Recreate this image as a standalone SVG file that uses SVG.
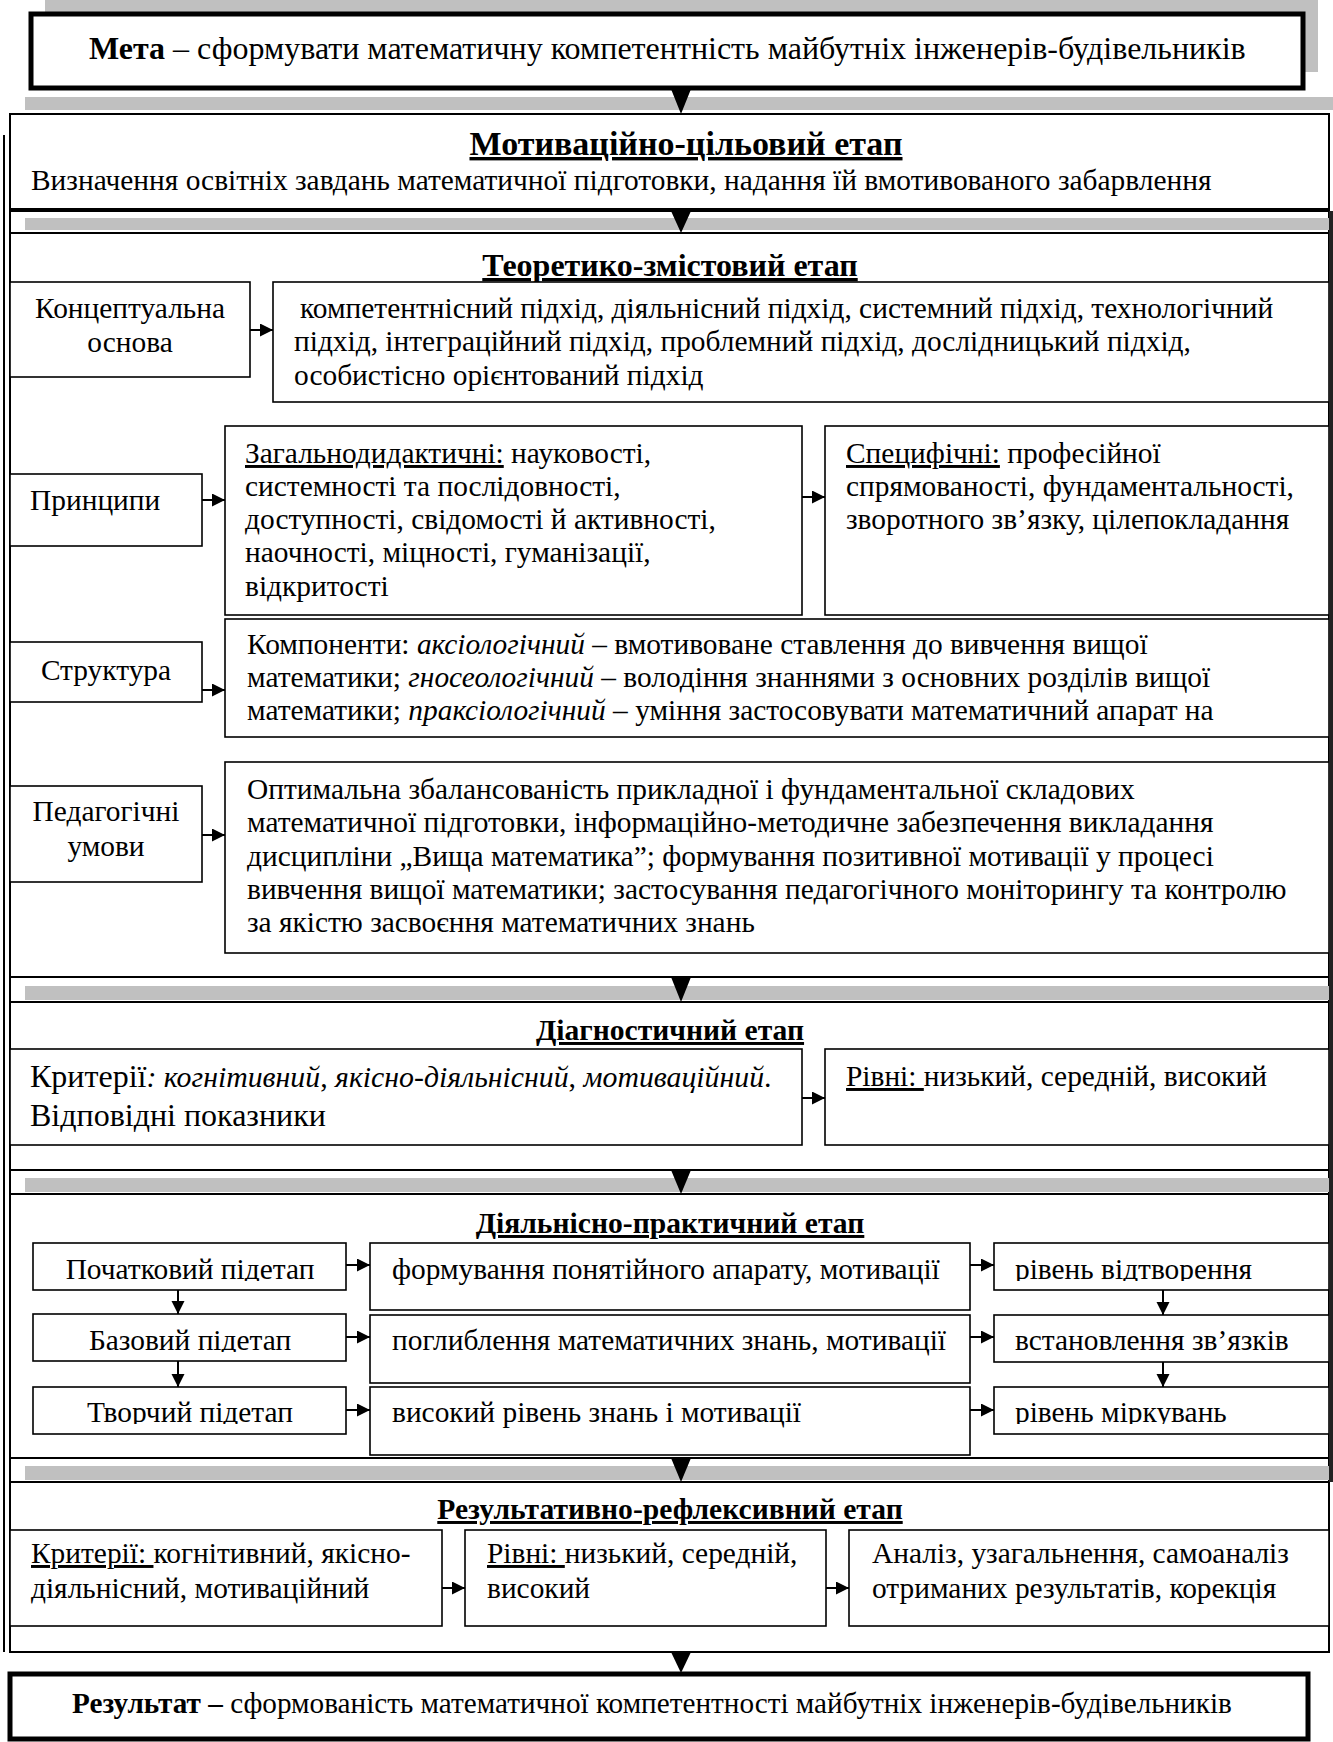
<svg xmlns="http://www.w3.org/2000/svg" width="1333" height="1742" viewBox="0 0 1333 1742">
<style>
text { font-family: "Liberation Serif", "Times New Roman", serif; font-size: 29.4px; fill: #000; }
.t { font-weight: bold; text-decoration: underline; text-anchor: middle; font-size: 29.6px; }
.c { text-anchor: middle; }
.u { text-decoration: underline; }
.i { font-style: italic; }
.b { font-weight: bold; }
.f32 { font-size: 32px; }
.f34 { font-size: 34px; }
.f298 { font-size: 29.8px; }
.f292 { font-size: 29.2px; }
.box { fill: #fff; stroke: #000; stroke-width: 1.6; }
.sec { fill: #fff; stroke: #000; stroke-width: 2; }
.thick { fill: #fff; stroke: #000; stroke-width: 5; }
.gray { fill: #c0c0c0; }
.ln { stroke: #000; stroke-width: 2; fill: none; }
.arr { stroke: #000; stroke-width: 2; fill: none; marker-end: url(#ah); }
.tri { fill: #000; }
</style>
<defs>
<marker id="ah" markerWidth="14" markerHeight="14" refX="13" refY="6.5" orient="auto" markerUnits="userSpaceOnUse">
<path d="M0,0 L13,6.5 L0,13 z" fill="#000"/>
</marker>
<clipPath id="cr1"><rect x="0" y="1243" width="1333" height="38"/></clipPath>
<clipPath id="cr2"><rect x="0" y="1314" width="1333" height="38"/></clipPath>
<clipPath id="cr3"><rect x="0" y="1387" width="1333" height="37"/></clipPath>
</defs>

<g id="background">
<rect class="gray" x="45" y="0" width="1273" height="72"/>
<line class="ln" x1="4" y1="135" x2="4" y2="1652"/>
</g>

<g id="meta">
<rect class="thick" x="31" y="14" width="1272" height="74"/>
<text class="f32" x="89" y="59"><tspan class="b">Мета</tspan> – сформувати математичну компетентність майбутніх інженерів-будівельників</text>
</g>

<g id="band1">
<rect class="gray" x="25" y="97" width="1308" height="13"/>
</g>

<g id="motivation">
<rect class="sec" x="10" y="114" width="1319" height="95"/>
<text class="t f34" x="686" y="155">Мотиваційно-цільовий етап</text>
<text x="31" y="190">Визначення освітніх завдань математичної підготовки, надання їй вмотивованого забарвлення</text>
</g>

<g id="band2">
<rect class="sec" x="10" y="211" width="1319" height="22"/>
<rect class="gray" x="25" y="218" width="1304" height="12"/>
</g>

<g id="theoretical">
<rect class="sec" x="10" y="233" width="1319" height="744"/>
<text class="t f32" x="670" y="276">Теоретико-змістовий етап</text>
</g>

<g id="concept">
<rect class="box" x="10" y="282" width="240" height="95"/>
<text class="c" x="130" y="318">Концептуальна</text>
<text class="c" x="130" y="352">основа</text>
</g>
<g id="approaches">
<rect class="box" x="273" y="282" width="1056" height="120"/>
<text x="300" y="318">компетентнісний підхід, діяльнісний підхід, системний підхід, технологічний</text>
<text x="294" y="351">підхід, інтеграційний підхід, проблемний підхід, дослідницький підхід,</text>
<text x="294" y="385">особистісно орієнтований підхід</text>
</g>

<g id="principles">
<rect class="box" x="10" y="474" width="192" height="72"/>
<text x="30" y="510">Принципи</text>
</g>
<g id="general">
<rect class="box" x="225" y="426" width="577" height="189"/>
<text x="245" y="463"><tspan class="u">Загальнодидактичні:</tspan> науковості,</text>
<text x="245" y="496">системності та послідовності,</text>
<text x="245" y="529">доступності, свідомості й активності,</text>
<text x="245" y="562">наочності, міцності, гуманізації,</text>
<text x="245" y="596">відкритості</text>
</g>
<g id="specific">
<rect class="box" x="825" y="426" width="504" height="189"/>
<text x="846" y="463"><tspan class="u">Специфічні:</tspan> професійної</text>
<text x="846" y="496">спрямованості, фундаментальності,</text>
<text x="846" y="529">зворотного зв’язку, цілепокладання</text>
</g>

<g id="structure">
<rect class="box" x="10" y="642" width="192" height="60"/>
<text class="c" x="106" y="680">Структура</text>
</g>
<g id="components">
<rect class="box" x="225" y="619" width="1104" height="118"/>
<text x="247" y="654">Компоненти: <tspan class="i">аксіологічний</tspan> – вмотивоване ставлення до вивчення вищої</text>
<text x="247" y="687">математики; <tspan class="i">гносеологічний</tspan> – володіння знаннями з основних розділів вищої</text>
<text x="247" y="720">математики; <tspan class="i">праксіологічний</tspan> – уміння застосовувати математичний апарат на</text>
</g>

<g id="ped">
<rect class="box" x="10" y="786" width="192" height="96"/>
<text class="c" x="106" y="821">Педагогічні</text>
<text class="c" x="106" y="856">умови</text>
</g>
<g id="conditions">
<rect class="box" x="225" y="762" width="1104" height="191"/>
<text x="247" y="799">Оптимальна збалансованість прикладної і фундаментальної складових</text>
<text x="247" y="832">математичної підготовки, інформаційно-методичне забезпечення викладання</text>
<text x="247" y="866">дисципліни „Вища математика”; формування позитивної мотивації у процесі</text>
<text x="247" y="899">вивчення вищої математики; застосування педагогічного моніторингу та контролю</text>
<text x="247" y="932">за якістю засвоєння математичних знань</text>
</g>

<g id="band3">
<rect class="sec" x="10" y="977" width="1319" height="25"/>
<rect class="gray" x="25" y="986" width="1304" height="14"/>
</g>

<g id="diagnostic">
<rect class="sec" x="10" y="1002" width="1319" height="168"/>
<text class="t" x="670" y="1040">Діагностичний етап</text>
</g>
<g id="diag-criteria">
<rect class="box" x="10" y="1049" width="792" height="96"/>
<text class="f32" x="30" y="1087">Критерії<tspan class="i f298">: когнітивний</tspan><tspan class="f298">, </tspan><tspan class="i f298">якісно-діяльнісний</tspan><tspan class="f298">, </tspan><tspan class="i f298">мотиваційний</tspan><tspan class="f298">.</tspan></text>
<text class="f32" x="30" y="1126">Відповідні показники</text>
</g>
<g id="diag-levels">
<rect class="box" x="825" y="1049" width="504" height="96"/>
<text x="846" y="1086"><tspan class="u">Рівні: </tspan>низький, середній, високий</text>
</g>

<g id="band4">
<rect class="sec" x="10" y="1170" width="1319" height="24"/>
<rect class="gray" x="25" y="1178" width="1304" height="14"/>
</g>

<g id="practical">
<rect class="sec" x="10" y="1194" width="1319" height="264"/>
<text class="t" x="670" y="1233">Діяльнісно-практичний етап</text>
</g>
<g id="initial">
<rect class="box" x="33" y="1243" width="313" height="47"/>
<text class="c" x="190" y="1279" clip-path="url(#cr1)">Початковий підетап</text>
</g>
<g id="basic">
<rect class="box" x="33" y="1314" width="313" height="47"/>
<text class="c" x="190" y="1350" clip-path="url(#cr2)">Базовий підетап</text>
</g>
<g id="creative">
<rect class="box" x="33" y="1387" width="313" height="47"/>
<text class="c" x="190" y="1422" clip-path="url(#cr3)">Творчий підетап</text>
</g>
<g id="mid1">
<rect class="box" x="370" y="1243" width="600" height="67"/>
<text x="392" y="1279">формування понятійного апарату, мотивації</text>
</g>
<g id="mid2">
<rect class="box" x="370" y="1315" width="600" height="68"/>
<text x="392" y="1350">поглиблення математичних знань, мотивації</text>
</g>
<g id="mid3">
<rect class="box" x="370" y="1387" width="600" height="68"/>
<text x="392" y="1422">високий рівень знань і мотивації</text>
</g>
<g id="lvl1">
<rect class="box" x="994" y="1243" width="335" height="47"/>
<text x="1015" y="1279" clip-path="url(#cr1)">рівень відтворення</text>
</g>
<g id="lvl2">
<rect class="box" x="994" y="1315" width="335" height="47"/>
<text x="1015" y="1350" clip-path="url(#cr2)">встановлення зв’язків</text>
</g>
<g id="lvl3">
<rect class="box" x="994" y="1387" width="335" height="47"/>
<text x="1015" y="1422" clip-path="url(#cr3)">рівень міркувань</text>
</g>

<g id="band5">
<rect class="sec" x="10" y="1458" width="1319" height="24"/>
<rect class="gray" x="25" y="1466" width="1304" height="14"/>
</g>

<g id="reflexive">
<rect class="sec" x="10" y="1482" width="1319" height="170" stroke-width="3"/>
<text class="t" x="670" y="1519">Результативно-рефлексивний етап</text>
</g>
<g id="res-criteria">
<rect class="box" x="10" y="1530" width="432" height="96"/>
<text x="31" y="1563"><tspan class="u">Критерії: </tspan>когнітивний, якісно-</text>
<text x="31" y="1598">діяльнісний, мотиваційний</text>
</g>
<g id="res-levels">
<rect class="box" x="465" y="1530" width="361" height="96"/>
<text x="487" y="1563"><tspan class="u">Рівні: </tspan>низький, середній,</text>
<text x="487" y="1598">високий</text>
</g>
<g id="analysis">
<rect class="box" x="849" y="1530" width="480" height="96"/>
<text x="872" y="1563">Аналіз, узагальнення, самоаналіз</text>
<text x="872" y="1598">отриманих результатів, корекція</text>
</g>

<g id="result">
<rect class="thick" x="10" y="1674" width="1298" height="65"/>
<text class="f292" x="72" y="1713"><tspan class="b">Результат –</tspan> сформованість математичної компетентності майбутніх інженерів-будівельників</text>
</g>

<g id="rightedge">
<rect x="1329" y="211" width="4" height="1271" fill="#222"/>
</g>

<g id="connectors">
<polygon class="tri" points="671,89 691,89 681,114"/>
<polygon class="tri" points="671,211 691,211 681,233"/>
<polygon class="tri" points="671,977 691,977 681,1002"/>
<polygon class="tri" points="671,1170 691,1170 681,1194"/>
<polygon class="tri" points="671,1458 691,1458 681,1482"/>
<polygon class="tri" points="671,1652 691,1652 681,1673"/>
<line class="arr" x1="250" y1="330" x2="273" y2="330"/>
<line class="arr" x1="202" y1="500" x2="225" y2="500"/>
<line class="arr" x1="802" y1="497" x2="825" y2="497"/>
<line class="arr" x1="202" y1="690" x2="225" y2="690"/>
<line class="arr" x1="202" y1="835" x2="225" y2="835"/>
<line class="arr" x1="802" y1="1098" x2="825" y2="1098"/>
<line class="arr" x1="346" y1="1265" x2="370" y2="1265"/>
<line class="arr" x1="346" y1="1337" x2="370" y2="1337"/>
<line class="arr" x1="346" y1="1410" x2="370" y2="1410"/>
<line class="arr" x1="970" y1="1265" x2="994" y2="1265"/>
<line class="arr" x1="970" y1="1337" x2="994" y2="1337"/>
<line class="arr" x1="970" y1="1410" x2="994" y2="1410"/>
<line class="arr" x1="178" y1="1290" x2="178" y2="1314"/>
<line class="arr" x1="178" y1="1361" x2="178" y2="1387"/>
<line class="arr" x1="1163" y1="1290" x2="1163" y2="1315"/>
<line class="arr" x1="1163" y1="1362" x2="1163" y2="1387"/>
<line class="arr" x1="442" y1="1588" x2="465" y2="1588"/>
<line class="arr" x1="826" y1="1588" x2="849" y2="1588"/>
</g>
</svg>
